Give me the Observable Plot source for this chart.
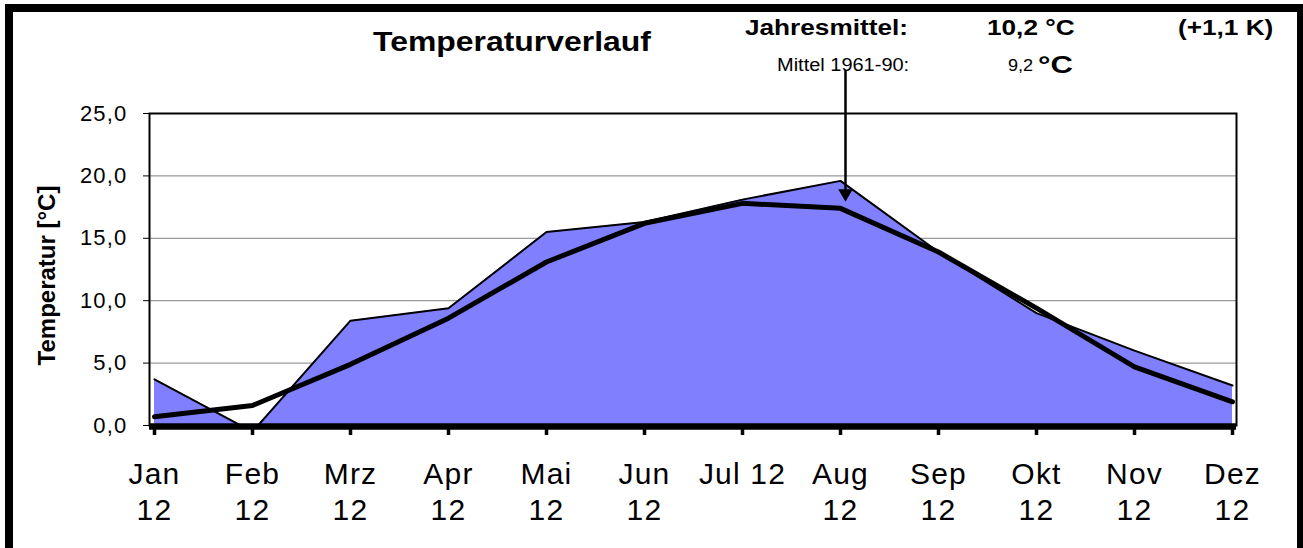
<!DOCTYPE html>
<html>
<head>
<meta charset="utf-8">
<script src="https://cdn.jsdelivr.net/npm/d3@7"></script>
<script src="https://cdn.jsdelivr.net/npm/@observablehq/plot@0.6"></script>
<style>
  html, body { margin: 0; padding: 0; background: #fff; }
  body { width: 1303px; height: 548px; overflow: hidden; position: relative; font-family: "Liberation Sans", Arial, sans-serif; color: #000; }
  #chart { position: absolute; left: 0; top: 0; }
  .frameBox { position: absolute; left: 5px; top: 4px; width: 1300px; height: 620px; box-sizing: border-box; border: 8px solid #000; pointer-events: none; }
  .hdr { position: absolute; white-space: nowrap; line-height: 1; transform-origin: left top; }
  g[aria-label="x-axis tick label"] text { letter-spacing: 1.2px; }
  g[aria-label="y-axis tick label"] text { letter-spacing: 1.2px; }
</style>
</head>
<body>
<div id="chart"></div>
<div class="hdr" id="title" style="left:373px; top:28px; font-size:28px; font-weight:bold; transform:scaleX(1.14);"></div>
<div class="hdr" id="jm" style="left:745px; top:17px; font-size:22px; font-weight:bold; transform:scaleX(1.19);"></div>
<div class="hdr" id="jmv" style="left:987px; top:17px; font-size:22px; font-weight:bold; transform:scaleX(1.19);"></div>
<div class="hdr" id="jmd" style="left:1178px; top:17px; font-size:22px; font-weight:bold; transform:scaleX(1.19);"></div>
<div class="hdr" id="lt" style="left:777px; top:56px; font-size:18px; transform:scaleX(1.11);"></div>
<div class="hdr" id="ltv" style="left:1008px; top:58px; font-size:16px; transform:scaleX(1.13);"></div>
<div class="hdr" id="ltu" style="left:1038px; top:54px; font-size:23px; font-weight:bold; transform:scaleX(1.35);"></div>
<div class="frameBox"></div>
<script>
// ---- data ----
const months = ["Jan","Feb","Mrz","Apr","Mai","Jun","Jul","Aug","Sep","Okt","Nov","Dez"];
const xTickLabels = ["Jan\n12","Feb\n12","Mrz\n12","Apr\n12","Mai\n12","Jun\n12","Jul 12","Aug\n12","Sep\n12","Okt\n12","Nov\n12","Dez\n12"];
const temp2012 = [3.7, -0.5, 8.4, 9.4, 15.5, 16.3, 18.1, 19.6, 13.9, 9.0, 6.0, 3.2];
const mean6190 = [0.7, 1.6, 4.9, 8.6, 13.1, 16.2, 17.8, 17.4, 13.9, 9.4, 4.7, 1.9];
const yTicks = [0, 5, 10, 15, 20, 25];
const yTickLabels = ["0,0", "5,0", "10,0", "15,0", "20,0", "25,0"];
const gridValues = [5, 10, 15, 20];
const yTitle = "Temperatur [°C]";
const titleText = "Temperaturverlauf";
const headerTexts = ["Jahresmittel:", "10,2 °C", "(+1,1 K)", "Mittel 1961-90:", "9,2", "°C"];
const arrowMonth = ["Aug"];
const arrowFrom = [28.45];
const arrowShaftEnd = [18.4];
const arrowHead = [18.6];

// header text
document.getElementById("title").textContent = titleText;
["jm","jmv","jmd","lt","ltv","ltu"].forEach((id, i) => document.getElementById(id).textContent = headerTexts[i]);

const areaData = months.map((m, i) => ({month: m, value: temp2012[i]}));
const meanData = months.map((m, i) => ({month: m, value: mean6190[i]}));
const arrowData = arrowMonth.map((m, i) => ({month: m, y1: arrowFrom[i], y2: arrowShaftEnd[i], head: arrowHead[i]}));

const chart = Plot.plot({
  width: 1303,
  height: 548,
  marginLeft: 149,
  marginRight: 67,
  marginTop: 113,
  marginBottom: 123,
  style: {fontFamily: "'Liberation Sans', Arial, sans-serif", background: "#fff", color: "#000", overflow: "visible"},
  x: {type: "point", domain: months, padding: 0, label: null},
  y: {domain: [0, 25], label: null},
  marks: [
    Plot.gridY(gridValues, {stroke: "#808080", strokeOpacity: 1, strokeWidth: 1}),
    Plot.areaY(areaData, {x: "month", y: "value", fill: "#8080ff", clip: true}),
    Plot.frame({stroke: "#000", strokeWidth: 2}),
    Plot.lineY(areaData, {x: "month", y: "value", stroke: "#000", strokeWidth: 2, clip: true}),
    Plot.lineY(meanData, {x: "month", y: "value", stroke: "#000", strokeWidth: 5}),
    Plot.ruleY([0], {stroke: "#000", strokeWidth: 6.5, dy: 1}),
    Plot.axisY({ticks: yTicks, tickFormat: d => yTickLabels[yTicks.indexOf(d)], tickSize: 6, tickPadding: 16, fontSize: 22, strokeWidth: 1, label: null}),
    Plot.axisX({tickFormat: d => xTickLabels[months.indexOf(d)], tickSize: 10, tickPadding: 23, fontSize: 30, lineHeight: 1.2, strokeWidth: 3.5, label: null}),
    Plot.ruleX(arrowData, {x: "month", y1: "y1", y2: "y2", dx: 5, stroke: "#000", strokeWidth: 2.5}),
    Plot.dot(arrowData, {x: "month", y: "head", dx: 5, symbol: "triangle", rotate: 180, r: 5.4, fill: "#000", stroke: "none"}),
    Plot.text([yTitle], {frameAnchor: "left", text: d => d, rotate: -90, dx: -102, dy: 6, fontSize: 24, fontWeight: "bold", textAnchor: "middle"})
  ]
});
document.getElementById("chart").appendChild(chart);
</script>
</body>
</html>
